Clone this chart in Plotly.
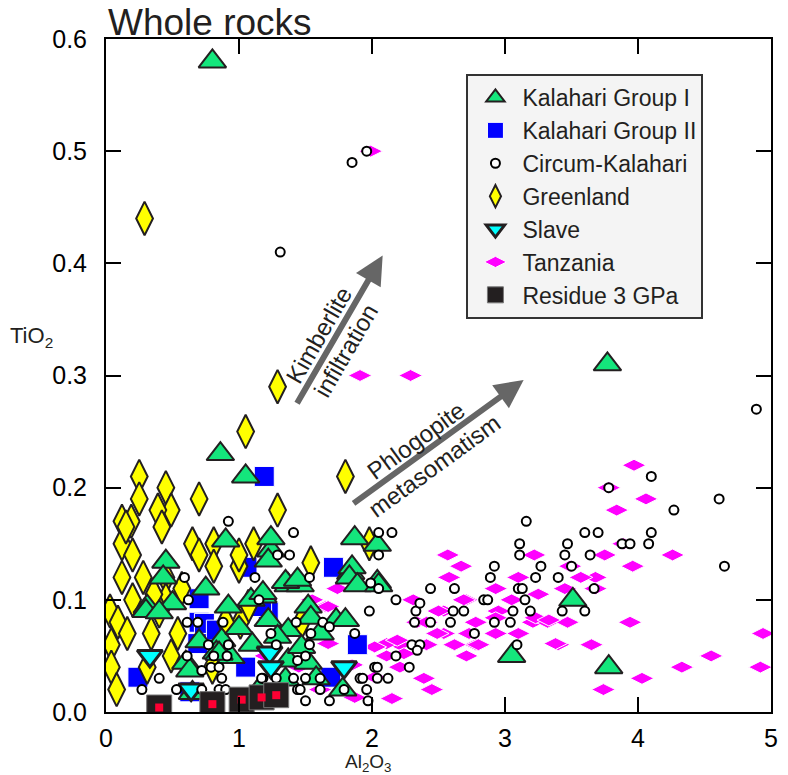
import plotly.graph_objects as go

# ---------------- data (Al2O3 wt%, TiO2 wt%) ----------------
kal1_x = [0.80, 3.77, 0.86, 1.05, 3.51, 3.05, 3.78, 1.87, 1.84, 2.04, 1.24, 1.37, 1.46, 1.85, 1.83,
          1.89, 2.05, 2.04, 1.18, 1.52, 1.73, 1.80, 1.22, 1.37, 1.54, 0.90, 1.24, 1.22, 0.45, 0.31,
          1.35, 1.44, 1.09, 1.18, 0.92, 0.87, 0.60, 0.83, 0.94, 1.29, 1.37, 1.52, 1.78, 1.47, 1.61,
          1.35, 0.50, 0.30, 0.70, 0.63, 0.65, 0.40, 0.85, 1.00, 1.10, 1.58, 1.15, 0.75, 0.43]
kal1_y = [0.58, 0.31, 0.23, 0.21, 0.10, 0.05, 0.04, 0.155, 0.124, 0.116, 0.144, 0.113, 0.113, 0.129, 0.12,
          0.113, 0.113, 0.149, 0.103, 0.094, 0.082, 0.082, 0.082, 0.073, 0.084, 0.153, 0.155, 0.135, 0.134, 0.094,
          0.116, 0.118, 0.10, 0.106, 0.094, 0.064, 0.044, 0.053, 0.049, 0.067, 0.046, 0.044, 0.02, 0.058, 0.07,
          0.029, 0.097, 0.09, 0.063, 0.037, 0.017, 0.089, 0.052, 0.075, 0.06, 0.03, 0.02, 0.11, 0.12]

kal2_x = [1.19, 1.71, 1.06, 0.70, 0.70, 0.80, 0.69, 0.24, 1.05, 0.63, 1.22, 1.89, 1.69, 0.74, 0.83, 1.17]
kal2_y = [0.21, 0.129, 0.129, 0.101, 0.08, 0.071, 0.061, 0.031, 0.04, 0.018, 0.089, 0.06, 0.031, 0.079, 0.073, 0.094]

circ_x = [1.85, 1.96, 1.31, 4.89,
          4.61, 4.10, 3.78, 4.27, 4.65, 4.10, 4.08, 3.88, 3.94, 3.70, 3.60, 3.64, 3.47, 3.45, 3.50, 3.40,
          3.67, 3.60, 3.43,
          3.16, 3.11, 3.11, 3.27, 3.23, 3.10, 3.13, 3.15, 3.19, 3.06, 3.04, 3.09,
          2.92, 2.89, 2.84, 2.87, 2.92, 2.77, 2.69, 2.61, 2.59, 2.62, 2.44, 2.44, 2.32, 2.33, 2.36, 2.30,
          2.36, 2.34, 2.18, 2.28, 2.18,
          2.15, 2.05, 2.05, 2.05, 1.99, 1.98, 2.02, 2.04, 2.04, 2.12, 1.96, 1.91, 1.93, 1.97, 1.87, 1.79,
          1.61, 1.61, 1.68, 1.50, 1.44, 1.41, 1.50, 1.44, 1.50, 1.53, 1.54, 1.43, 1.63, 1.68, 1.24, 1.28,
          1.18, 1.28, 1.46,
          1.41, 1.29, 1.38, 1.53,
          0.92, 1.12, 0.59, 0.62, 1.15, 0.61, 0.69, 0.88, 0.77, 0.92, 0.61, 0.81, 0.91, 0.72, 0.79, 0.85,
          0.87, 0.53, 0.40, 0.27, 0.72, 0.85, 0.90, 1.17]
circ_y = [0.49, 0.50, 0.41, 0.27,
          0.19, 0.21, 0.20, 0.18, 0.13, 0.16, 0.15, 0.15, 0.15, 0.16, 0.16, 0.14, 0.15, 0.14, 0.13, 0.12,
          0.11, 0.09, 0.09,
          0.17, 0.15, 0.14, 0.13, 0.12, 0.11, 0.11, 0.10, 0.09, 0.09, 0.08, 0.06,
          0.13, 0.12, 0.10, 0.10, 0.08, 0.07, 0.09, 0.09, 0.08, 0.11, 0.08, 0.11, 0.08, 0.09, 0.097, 0.06,
          0.06, 0.055, 0.05, 0.04, 0.10,
          0.16, 0.16, 0.14, 0.11, 0.115, 0.09, 0.04, 0.04, 0.03, 0.03, 0.02, 0.03, 0.03, 0.01, 0.07, 0.02,
          0.03, 0.02, 0.01, 0.01, 0.02, 0.03, 0.03, 0.046, 0.05, 0.06, 0.07, 0.08, 0.08, 0.076, 0.07, 0.06,
          0.03, 0.03, 0.02,
          0.16, 0.14, 0.14, 0.12,
          0.17, 0.12, 0.12, 0.10, 0.10, 0.08, 0.08, 0.08, 0.06, 0.06, 0.05, 0.05, 0.05, 0.037, 0.04, 0.04,
          0.03, 0.02, 0.03, 0.02, 0.02, 0.02, 0.02, 0.03]

green_x = [0.29, 1.29, 1.80, 1.05, 1.29, 0.25, 0.45, 0.25, 0.70, 0.49, 0.39, 0.12, 0.19, 0.42, 0.12,
           0.20, 0.65, 0.81, 1.11, 0.70, 0.81, 1.00, 0.12, 0.28, 0.45, 0.57, 0.45, 0.03, 0.40, 1.07,
           1.01, 0.90, 1.54, 1.98, 0.09, 0.16, 0.34, 0.54, 0.04, 0.49, 0.31, 0.04, 0.08, 1.47, 0.80,
           1.00, 0.20, 0.36, 0.15]
green_y = [0.44, 0.29, 0.21, 0.25, 0.18, 0.21, 0.20, 0.19, 0.19, 0.18, 0.18, 0.17, 0.17, 0.165, 0.15,
           0.14, 0.15, 0.15, 0.15, 0.14, 0.13, 0.13, 0.12, 0.12, 0.12, 0.11, 0.10, 0.09, 0.09, 0.094,
           0.08, 0.08, 0.133, 0.15, 0.08, 0.07, 0.07, 0.07, 0.06, 0.05, 0.04, 0.04, 0.02, 0.08, 0.04,
           0.14, 0.10, 0.105, 0.165]

slave_x = [0.33, 0.64, 1.23, 1.24, 1.79]
slave_y = [0.05, 0.02, 0.053, 0.04, 0.04]

tanz_x = [3.97, 3.78, 4.06, 3.84, 3.89, 4.26, 3.75, 3.96, 2.57, 2.67, 2.58, 3.22, 3.10, 3.49, 3.68,
          3.57, 3.45, 2.93, 3.68, 2.31, 2.71, 2.95, 3.21, 3.32, 3.47, 3.94, 2.54, 2.78, 3.10, 3.40,
          3.65, 4.94, 4.55, 4.33, 4.92, 4.03, 3.74, 2.71, 2.39, 2.45, 2.21, 2.11, 2.21, 2.54, 2.41,
          2.78, 2.34, 1.99, 1.91, 2.29, 2.50, 2.69, 2.93, 2.41, 2.49, 1.74, 1.65, 2.11, 2.19, 1.67,
          2.73, 2.80, 2.15, 2.02, 2.02, 2.24, 2.62, 2.93, 3.23, 3.38, 3.33, 1.67, 1.61, 1.85, 1.87,
          1.45, 1.20, 1.55, 3.05, 3.25]
tanz_y = [0.22, 0.20, 0.19, 0.18, 0.15, 0.14, 0.14, 0.13, 0.14, 0.13, 0.12, 0.14, 0.12, 0.13, 0.12,
          0.12, 0.11, 0.11, 0.11, 0.10, 0.10, 0.09, 0.08, 0.08, 0.08, 0.08, 0.09, 0.08, 0.07, 0.06,
          0.06, 0.07, 0.05, 0.04, 0.04, 0.03, 0.02, 0.05, 0.03, 0.02, 0.04, 0.05, 0.06, 0.07, 0.06,
          0.06, 0.08, 0.50, 0.30, 0.30, 0.09, 0.10, 0.07, 0.08, 0.07, 0.11, 0.094, 0.061, 0.064, 0.094,
          0.07, 0.06, 0.012, 0.031, 0.058, 0.052, 0.06, 0.084, 0.084, 0.061, 0.082, 0.061, 0.02, 0.042, 0.013,
          0.04, 0.05, 0.10, 0.10, 0.105]

res_x = [0.40, 0.80, 1.02, 1.17, 1.28]
res_y = [0.004, 0.007, 0.011, 0.013, 0.015]

x_ticks = [0, 1, 2, 3, 4, 5]
y_ticks = [0.0, 0.1, 0.2, 0.3, 0.4, 0.5, 0.6]

FONT = "Liberation Sans, Arial, Helvetica, sans-serif"
TXT = "#231f20"

fig = go.Figure()

fig.add_trace(go.Scatter(
    x=tanz_x, y=tanz_y, mode="markers", name="Tanzania", legendrank=6,
    marker=dict(symbol="diamond-wide", size=17, color="#ff00ff", line=dict(color="white", width=1))))
fig.add_trace(go.Scatter(
    x=kal2_x, y=kal2_y, mode="markers", name="Kalahari Group II", legendrank=2,
    marker=dict(symbol="square", size=20, color="#0000ff", line=dict(color="white", width=1))))
fig.add_trace(go.Scatter(
    x=green_x, y=green_y, mode="markers", name="Greenland", legendrank=4,
    marker=dict(symbol="diamond-tall", size=24, color="#ffff00", line=dict(color=TXT, width=2))))
fig.add_trace(go.Scatter(
    x=kal1_x, y=kal1_y, mode="markers", name="Kalahari Group I", legendrank=1,
    marker=dict(symbol="triangle-up", size=24, color="#14e67c", line=dict(color=TXT, width=2))))
fig.add_trace(go.Scatter(
    x=slave_x, y=slave_y, mode="markers", name="Slave", legendrank=5,
    marker=dict(symbol="triangle-down", size=22, color="#00ffff", line=dict(color=TXT, width=3))))
fig.add_trace(go.Scatter(
    x=circ_x, y=circ_y, mode="markers", name="Circum-Kalahari", legendrank=3,
    marker=dict(symbol="circle", size=9, color="white", line=dict(color="black", width=2))))
fig.add_trace(go.Scatter(
    x=res_x, y=res_y, mode="markers", name="Residue 3 GPa", legendrank=7, legendgroup="res",
    marker=dict(symbol="square", size=25, color=TXT, line=dict(color="#777777", width=1))))
fig.add_trace(go.Scatter(
    x=res_x, y=res_y, mode="markers", name="Residue 3 GPa", legendgroup="res", showlegend=False,
    marker=dict(symbol="square", size=8, color="#ff0033", line=dict(width=0))))

axis_common = dict(showline=True, linecolor="black", linewidth=2, mirror="ticks",
                   ticks="inside", ticklen=15, tickwidth=2, tickcolor="black",
                   showgrid=False, zeroline=False,
                   tickfont=dict(family=FONT, size=25, color="black"))

fig.update_xaxes(range=[0, 5], tickvals=x_ticks, ticktext=[str(v) for v in x_ticks],
                 ticklabelstandoff=3, **axis_common)
fig.update_yaxes(range=[0, 0.6], tickvals=y_ticks, ticktext=[f"{v:.1f}" for v in y_ticks],
                 ticklabelstandoff=12, **axis_common)

annotations = [
    dict(text="Whole rocks", xref="paper", yref="paper", x=0.0, y=1.0, xanchor="left",
         yanchor="bottom", showarrow=False, yshift=-6,
         font=dict(family=FONT, size=37, color=TXT)),
    dict(text="TiO<sub>2</sub>", xref="paper", yref="paper", x=-0.148, y=0.557,
         xanchor="left", yanchor="middle", showarrow=False,
         font=dict(family=FONT, size=22, color=TXT)),
    dict(text="Al<sub>2</sub>O<sub>3</sub>", xref="paper", yref="paper", x=0.394, y=-0.055,
         xanchor="center", yanchor="top", showarrow=False,
         font=dict(family=FONT, size=19, color=TXT)),
    # arrows
    dict(text="", x=2.08, y=0.407, ax=1.43, ay=0.274, xref="x", yref="y", axref="x", ayref="y",
         showarrow=True, arrowhead=2, arrowsize=0.95, arrowwidth=6, arrowcolor="#666666"),
    dict(text="", x=3.14, y=0.296, ax=1.85, ay=0.185, xref="x", yref="y", axref="x", ayref="y",
         showarrow=True, arrowhead=2, arrowsize=0.95, arrowwidth=6, arrowcolor="#666666"),
    dict(text="Kimberlite<br>infiltration", x=1.70, y=0.329, xref="x", yref="y",
         showarrow=False, textangle=-60, xanchor="center", yanchor="middle",
         font=dict(family=FONT, size=24, color=TXT)),
    dict(text="Phlogopite<br>metasomatism", x=2.40, y=0.231, xref="x", yref="y",
         showarrow=False, textangle=-36, xanchor="center", yanchor="middle",
         font=dict(family=FONT, size=24, color=TXT)),
]

fig.update_layout(
    width=788, height=775,
    margin=dict(l=106, r=10, t=39, b=63),
    paper_bgcolor="white", plot_bgcolor="white",
    font=dict(family=FONT, color=TXT),
    annotations=annotations,
    legend=dict(x=0.542, y=0.948, xanchor="left", yanchor="top",
                bgcolor="#f4f4f4", bordercolor="#333333", borderwidth=2,
                font=dict(family=FONT, size=23, color=TXT),
                tracegroupgap=0, itemwidth=44),
    showlegend=True,
)

fig.write_html("out.html", config={"displayModeBar": False},
               post_script="document.body.style.margin='0';")
